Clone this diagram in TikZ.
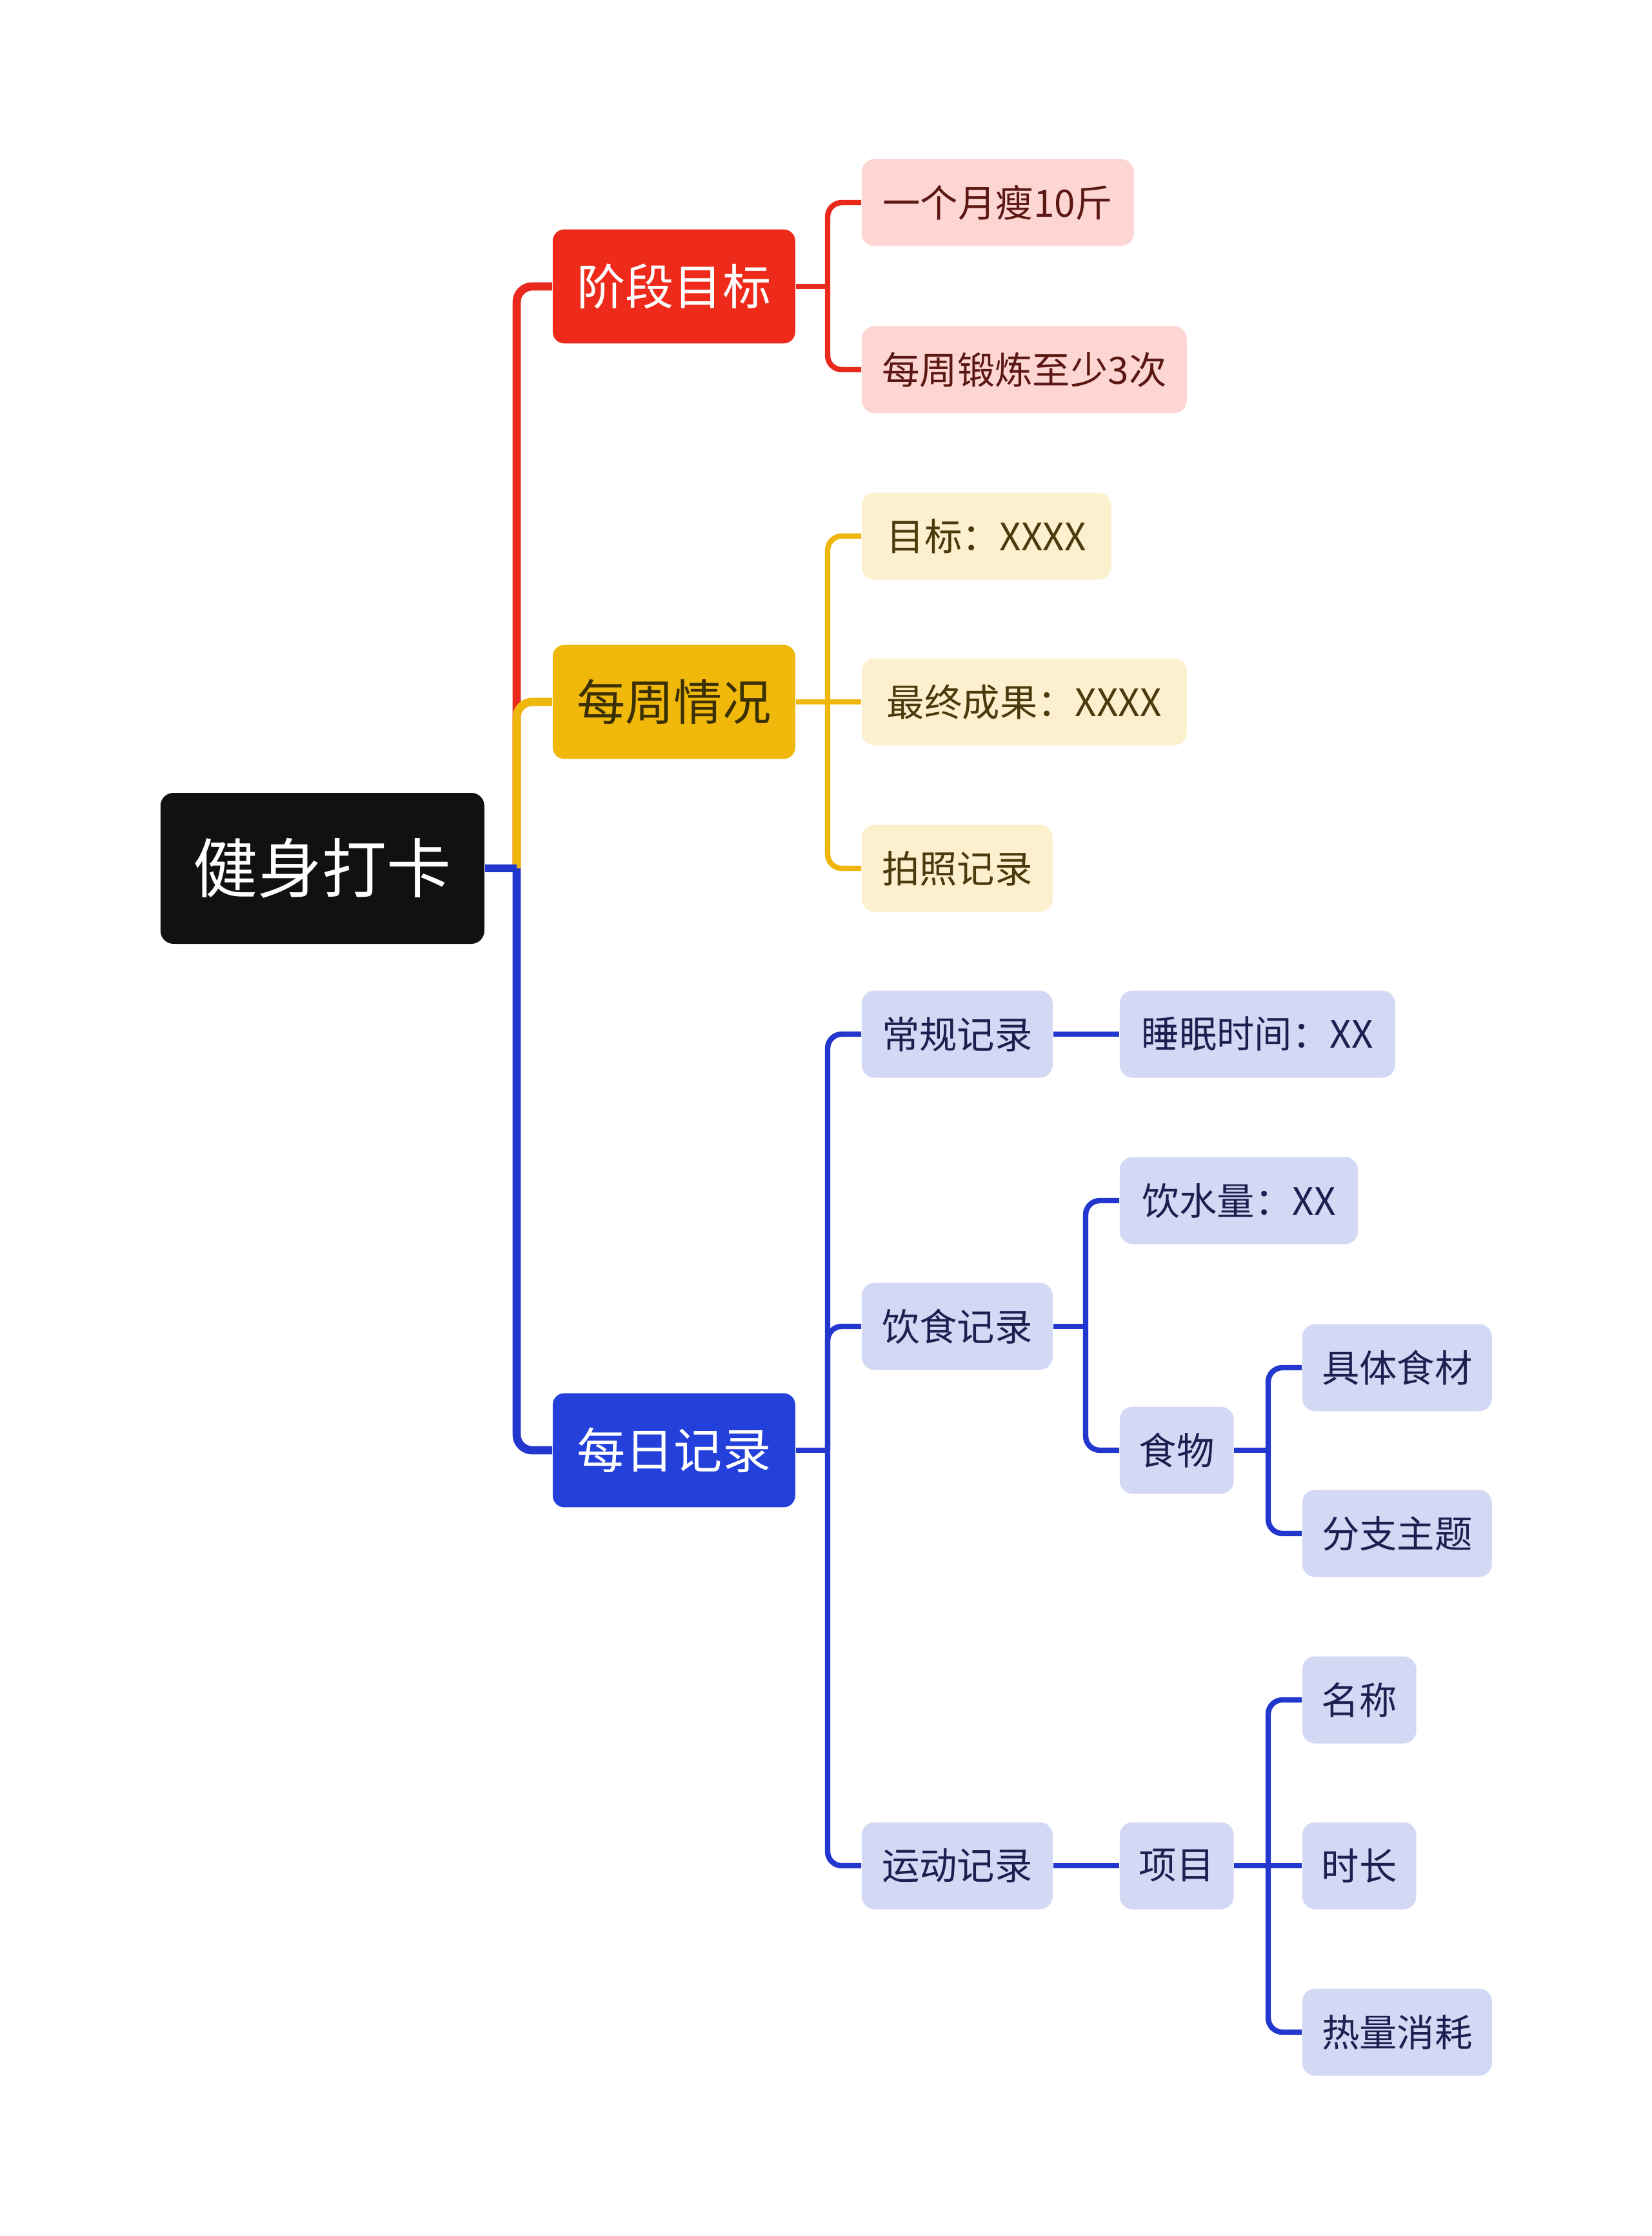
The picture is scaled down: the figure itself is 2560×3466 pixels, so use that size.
\documentclass[tikz,border=0pt]{standalone}
\usepackage{fontspec}
\setmainfont{Noto Sans CJK SC}
\definecolor{rootfill}{HTML}{111111}
\definecolor{redmain}{HTML}{EE2A1A}
\definecolor{redline}{HTML}{E8291C}
\definecolor{redlight}{HTML}{FDD6D3}
\definecolor{redtext}{HTML}{5B1712}
\definecolor{yelmain}{HTML}{F0B80A}
\definecolor{yelline}{HTML}{EFB70C}
\definecolor{yellight}{HTML}{FCF0CE}
\definecolor{yeltext}{HTML}{4A3A0C}
\definecolor{yelmaintext}{HTML}{3B2F05}
\definecolor{bluemain}{HTML}{2340DA}
\definecolor{blueline}{HTML}{2237CD}
\definecolor{bluelight}{HTML}{D3D8F5}
\definecolor{bluetext}{HTML}{1B2050}
\tikzset{
  basebox/.style={anchor=west, inner sep=0pt, align=center},
  rootbox/.style={basebox, fill=rootfill, text=white, rounded corners=5pt,
    minimum width=125.5pt, minimum height=58.5pt, font=\fontsize{25}{28}\selectfont},
  mainbox/.style={basebox, rounded corners=4.5pt, minimum width=94pt,
    minimum height=44.2pt, font=\fontsize{18.8}{22}\selectfont},
  leafbox/.style={basebox, rounded corners=5pt, minimum height=33.75pt,
    font=\fontsize{14.6}{17}\selectfont},
  redleaf/.style={leafbox, fill=redlight, text=redtext},
  yelleaf/.style={leafbox, fill=yellight, text=yeltext},
  blueleaf/.style={leafbox, fill=bluelight, text=bluetext},
  trunk/.style={line width=3.2pt, rounded corners=6pt},
  twig/.style={line width=2.1pt, rounded corners=5.5pt},
}
\begin{document}
\begin{tikzpicture}[x=0.25pt,y=-0.25pt]
\fill[white] (0,0) rectangle (2560,3466);
\useasboundingbox (0,0) rectangle (2560,3466);

% junction coordinates
\coordinate (j0) at (801,1346);
\coordinate (jr) at (1283,444);
\coordinate (jy) at (1283,1088);
\coordinate (jb) at (1283,2248);
\coordinate (jf) at (1683,2056);
\coordinate (jw) at (1966,2248);
\coordinate (jx) at (1966,2892);

% root
\node[rootbox] (root) at (248,1346) {健身打卡};

% level 1
\node[mainbox, fill=redmain, text=white] (m1) at (856,444) {阶段目标};
\node[mainbox, fill=yelmain, text=yelmaintext] (m2) at (856,1088) {每周情况};
\node[mainbox, fill=bluemain, text=white] (m3) at (856,2248) {每日记录};

% red leaves
\node[redleaf, minimum width=105.5pt] (r1) at (1335,314) {一个月瘦10斤};
\node[redleaf, minimum width=126pt] (r2) at (1335,573) {每周锻炼至少3次};

% yellow leaves
\node[yelleaf, minimum width=96.7pt] (y1) at (1335,831) {目标：XXXX};
\node[yelleaf, minimum width=126pt] (y2) at (1335,1088) {最终成果：XXXX};
\node[yelleaf, minimum width=74pt] (y3) at (1335,1346) {拍照记录};

% blue level 2
\node[blueleaf, minimum width=74pt] (b1) at (1335,1603) {常规记录};
\node[blueleaf, minimum width=74pt] (b2) at (1335,2056) {饮食记录};
\node[blueleaf, minimum width=74pt] (b3) at (1335,2892) {运动记录};

% blue level 3
\node[blueleaf, minimum width=106.7pt] (c1) at (1735,1603) {睡眠时间：XX};
\node[blueleaf, minimum width=92.3pt] (c2) at (1735,1861) {饮水量：XX};
\node[blueleaf, minimum width=44.2pt] (c3) at (1735,2248) {食物};
\node[blueleaf, minimum width=44.2pt] (c4) at (1735,2892) {项目};

% blue level 4
\node[blueleaf, minimum width=73.5pt] (d1) at (2018,2120) {具体食材};
\node[blueleaf, minimum width=73.5pt] (d2) at (2018,2377) {分支主题};
\node[blueleaf, minimum width=44.2pt] (d3) at (2018,2635) {名称};
\node[blueleaf, minimum width=44.2pt] (d4) at (2018,2892) {时长};
\node[blueleaf, minimum width=73.5pt] (d5) at (2018,3150) {热量消耗};

% level 0 -> level 1
\draw[trunk, redline] (j0) -- (j0 |- m1) -- (m1.west);
\draw[trunk, yelline] (j0) -- (j0 |- m2) -- (m2.west);
\draw[trunk, blueline] (j0) -- (j0 |- m3) -- (m3.west);
\draw[line width=3.2pt, blueline] (root.east) -- (j0);

% red
\draw[twig, redline] (m1.east) -- (jr);
\draw[twig, redline] (jr) -- (jr |- r1) -- (r1.west);
\draw[twig, redline] (jr) -- (jr |- r2) -- (r2.west);

% yellow
\draw[twig, yelline] (m2.east) -- (jy);
\draw[twig, yelline] (jy) -- (jy |- y1) -- (y1.west);
\draw[twig, yelline] (jy) -- (y2.west);
\draw[twig, yelline] (jy) -- (jy |- y3) -- (y3.west);

% blue
\draw[twig, blueline] (m3.east) -- (jb);
\draw[twig, blueline] (jb) -- (jb |- b1) -- (b1.west);
\draw[twig, blueline] (jb) -- (jb |- b2) -- (b2.west);
\draw[twig, blueline] (jb) -- (jb |- b3) -- (b3.west);

\draw[twig, blueline] (b1.east) -- (c1.west);
\draw[twig, blueline] (b2.east) -- (jf);
\draw[twig, blueline] (jf) -- (jf |- c2) -- (c2.west);
\draw[twig, blueline] (jf) -- (jf |- c3) -- (c3.west);
\draw[twig, blueline] (b3.east) -- (c4.west);

\draw[twig, blueline] (c3.east) -- (jw);
\draw[twig, blueline] (jw) -- (jw |- d1) -- (d1.west);
\draw[twig, blueline] (jw) -- (jw |- d2) -- (d2.west);

\draw[twig, blueline] (c4.east) -- (jx);
\draw[twig, blueline] (jx) -- (jx |- d3) -- (d3.west);
\draw[twig, blueline] (jx) -- (d4.west);
\draw[twig, blueline] (jx) -- (jx |- d5) -- (d5.west);
\end{tikzpicture}
\end{document}
